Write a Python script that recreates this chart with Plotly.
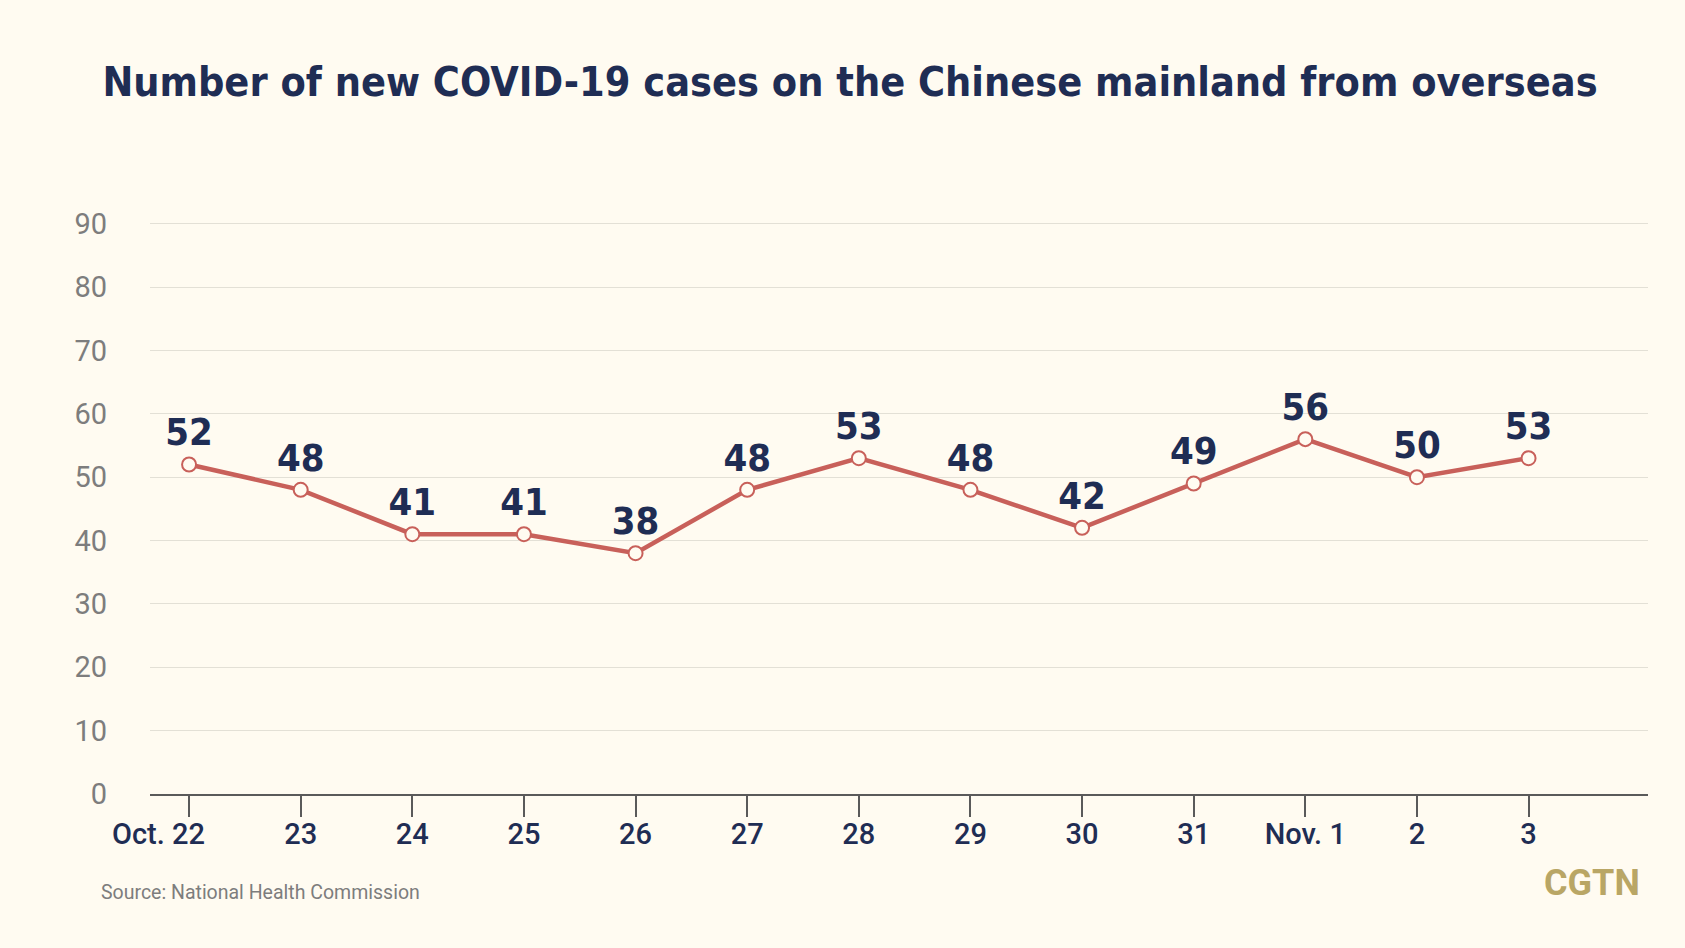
import plotly.graph_objects as go

dates = ["Oct. 22", "23", "24", "25", "26", "27", "28", "29", "30", "31", "Nov. 1", "2", "3"]
cases = [52, 48, 41, 41, 38, 48, 53, 48, 42, 49, 56, 50, 53]
y_ticks = [0, 10, 20, 30, 40, 50, 60, 70, 80, 90]

BG = "#fffbf1"
NAVY = "#1f2d54"
RED = "#c8605a"
GREY = "#7d7d7d"

# plot area in pixels
L, R, T, B = 150, 37, 211, 154
W, H = 1685, 948
PW, PH = W - L - R, H - T - B

def px(x):
    return (x - L) / PW

def py(y):
    return (H - B - y) / PH

x_idx = list(range(len(dates)))
tick_text = [""] + dates[1:]

fig = go.Figure()
fig.add_trace(go.Scatter(
    x=x_idx, y=cases, mode="lines+markers+text",
    line=dict(color=RED, width=4.5),
    marker=dict(size=14, color=BG, line=dict(color=RED, width=2)),
    text=[str(v) for v in cases], textposition="top center",
    textfont=dict(family="DejaVu Sans Condensed, Roboto, sans-serif", size=38, color=NAVY, weight="bold"),
    cliponaxis=False, hoverinfo="skip",
))

fig.add_annotation(x=0, y=0, xref="x", yref="y", text="Oct. 22", showarrow=False,
                   xanchor="right", yanchor="middle", xshift=18, yshift=-40,
                   font=dict(family="Roboto, sans-serif", size=29, color=NAVY, weight=500))

fig.add_annotation(x=px(99), y=py(892), xref="paper", yref="paper", xanchor="left", yanchor="middle",
                   text="Source: National Health Commission", showarrow=False,
                   font=dict(family="Roboto, sans-serif", size=19.5, color=GREY))
fig.add_annotation(x=px(1642), y=py(883), xref="paper", yref="paper", xanchor="right", yanchor="middle",
                   text="CGTN", showarrow=False,
                   font=dict(family="Roboto, sans-serif", size=36, color="#b9a665", weight="bold"))

fig.update_layout(
    width=W, height=H,
    paper_bgcolor=BG, plot_bgcolor=BG,
    margin=dict(l=L, r=R, t=T, b=B),
    showlegend=False,
    title=dict(text="Number of new COVID-19 cases on the Chinese mainland from overseas",
               x=850 / W, xanchor="center", y=1 - 82 / H, yanchor="middle",
               font=dict(family="DejaVu Sans Condensed, sans-serif", size=41, color=NAVY, weight="bold")),
    xaxis=dict(range=[-0.35, 13.07], tickvals=x_idx, ticktext=tick_text,
               showgrid=False, zeroline=False, showline=True, linecolor="#5a5a5a", linewidth=1.5,
               ticks="outside", ticklen=21, tickwidth=1.5, tickcolor="#5a5a5a", ticklabelstandoff=-8,
               tickfont=dict(family="Roboto, sans-serif", size=29, color=NAVY, weight=500)),
    yaxis=dict(range=[0, 92], tickvals=y_ticks, showgrid=True, gridcolor="#e3e0d6", gridwidth=1,
               zeroline=False, showline=False, ticks="", ticklabelstandoff=42,
               tickfont=dict(family="Roboto, sans-serif", size=29, color=GREY)),
)

fig.write_html("out.html")
